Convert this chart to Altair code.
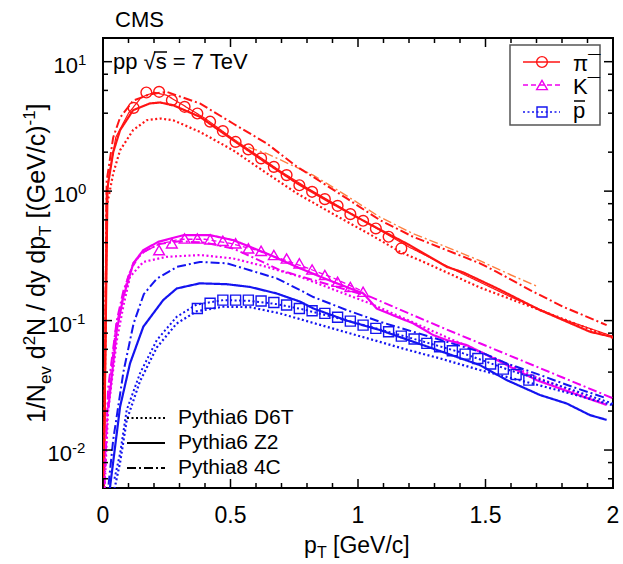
import altair as alt
import pandas as pd

# ---------------- measured spectra: CMS, pp at sqrt(s) = 7 TeV ----------------
pion_pt = [0.12, 0.17, 0.22, 0.27, 0.32, 0.37, 0.42, 0.47, 0.52, 0.57, 0.62,
           0.67, 0.72, 0.77, 0.82, 0.87, 0.92, 0.97, 1.02, 1.07, 1.12, 1.17]
pion_val = [4.40, 5.78, 5.85, 5.04, 4.48, 3.98, 3.44, 2.91, 2.40, 2.10, 1.79,
            1.54, 1.33, 1.11, 0.988, 0.867, 0.770, 0.664, 0.590, 0.515, 0.444, 0.361]

kaon_pt = [0.22, 0.27, 0.32, 0.37, 0.42, 0.47, 0.52, 0.57, 0.62, 0.67, 0.72,
           0.77, 0.82, 0.87, 0.92, 0.97, 1.02]
kaon_val = [0.350, 0.395, 0.431, 0.431, 0.424, 0.413, 0.395, 0.361, 0.346, 0.321,
            0.302, 0.277, 0.248, 0.225, 0.1995, 0.182, 0.167]

proton_pt = [0.37, 0.42, 0.47, 0.52, 0.57, 0.62, 0.67, 0.72, 0.77, 0.82, 0.87,
             0.92, 0.97, 1.02, 1.07, 1.12, 1.17, 1.22, 1.27, 1.32, 1.37, 1.42,
             1.47, 1.52, 1.57, 1.62, 1.67]
proton_val = [0.124, 0.136, 0.144, 0.144, 0.144, 0.1415, 0.138, 0.132, 0.124, 0.119,
              0.1137, 0.106, 0.099, 0.0923, 0.0870, 0.0819, 0.0759, 0.0720, 0.0667,
              0.0628, 0.0585, 0.0551, 0.0510, 0.0462, 0.0422, 0.0383, 0.0347]

# ---------------- fitted shapes drawn through the data ----------------
pion_fit_pt = [0.003, 0.02, 0.05, 0.1, 0.15, 0.2, 0.25, 0.3, 0.4, 0.5, 0.6, 0.7,
               0.8, 0.9, 1.0, 1.1, 1.2, 1.4, 1.6, 1.8, 2.0]
pion_fit_val = [0.003, 1.2, 2.6, 4.0, 5.3, 5.8, 5.5, 4.8, 3.65, 2.62, 1.92, 1.41,
                1.06, 0.815, 0.625, 0.48, 0.37, 0.235, 0.152, 0.103, 0.0755]
pion_aux_pt = [0.51, 0.58, 0.643, 0.694, 0.824, 0.956, 1.086, 1.216, 1.348,
               1.478, 1.6, 1.70]
pion_aux_val = [2.48, 2.15, 1.95, 1.75, 1.33, 0.92, 0.63, 0.47, 0.37, 0.29, 0.225, 0.185]
kaon_fit_pt = [0.008, 0.02, 0.05, 0.1, 0.15, 0.22, 0.3, 0.4, 0.5, 0.6, 0.7, 0.8,
               0.9, 1.02]
kaon_fit_val = [0.008, 0.025, 0.09, 0.23, 0.33, 0.39, 0.425, 0.425, 0.395, 0.35,
                0.30, 0.255, 0.215, 0.168]
proton_fit_pt = [0.045, 0.067, 0.093, 0.145, 0.211, 0.289, 0.367, 0.472, 0.576,
                 0.681, 0.785, 0.89, 1.0, 1.2, 1.4, 1.6, 1.8, 2.0]
proton_fit_val = [0.006, 0.0094, 0.0204, 0.0391, 0.0707, 0.107, 0.133, 0.144, 0.142,
                  0.134, 0.122, 0.108, 0.095, 0.074, 0.057, 0.041, 0.031, 0.0228]

# ---------------- generator predictions ----------------
pion_d6t_pt = [0.002, 0.0145, 0.04, 0.067, 0.118, 0.171, 0.224, 0.275, 0.38, 0.51,
               0.643, 0.761, 0.9, 1.05, 1.165, 1.282, 1.478, 1.714, 1.85, 2.0]
pion_d6t_val = [0.003, 0.756, 1.37, 2.07, 2.96, 3.53, 3.64, 3.53, 2.87, 2.07,
                1.37, 0.96, 0.67, 0.46, 0.34, 0.27, 0.18, 0.1205, 0.095, 0.0735]
pion_z2_pt = [0.002, 0.015, 0.04, 0.067, 0.118, 0.184, 0.224, 0.275, 0.38, 0.51,
              0.643, 0.761, 0.9, 1.05, 1.2, 1.348, 1.412, 1.544, 1.714, 1.804, 1.91, 2.0]
pion_z2_val = [0.003, 0.99, 2.0, 2.96, 4.22, 4.76, 4.84, 4.61, 3.75, 2.48,
               1.64, 1.15, 0.80, 0.55, 0.385, 0.260, 0.236, 0.178, 0.1205, 0.101,
               0.0819, 0.0746]
pion_4c_pt = [0.002, 0.0145, 0.04, 0.067, 0.118, 0.184, 0.25, 0.38, 0.51, 0.643,
              0.761, 0.824, 0.956, 1.086, 1.216, 1.348, 1.478, 1.544, 1.675, 1.804, 1.975]
pion_4c_val = [0.003, 1.2, 2.6, 3.7, 5.0, 5.6, 5.85, 4.76, 3.33, 2.33,
               1.54, 1.29, 0.878, 0.597, 0.444, 0.350, 0.277, 0.238, 0.172, 0.128, 0.0923]

kaon_d6t_pt = [0.004, 0.02, 0.054, 0.08, 0.106, 0.158, 0.25, 0.38, 0.511, 0.642,
               0.773, 0.9, 1.05, 1.2, 1.35, 1.5, 1.7, 1.85, 1.975]
kaon_d6t_val = [0.004, 0.02, 0.07, 0.13, 0.218, 0.284, 0.311, 0.321, 0.302, 0.260,
                0.218, 0.175, 0.135, 0.1, 0.074, 0.055, 0.0365, 0.028, 0.0225]
kaon_z2_pt = [0.021, 0.054, 0.08, 0.119, 0.158, 0.217, 0.315, 0.42, 0.511, 0.642,
              0.773, 0.9, 1.021, 1.073, 1.152, 1.217, 1.295, 1.348, 1.426, 1.55,
              1.70, 1.85, 1.975]
kaon_z2_val = [0.021, 0.0845, 0.153, 0.277, 0.350, 0.406, 0.457, 0.457, 0.418, 0.330,
               0.253, 0.20, 0.162, 0.124, 0.107, 0.0951, 0.0773, 0.0707, 0.0647, 0.049,
               0.0347, 0.0272, 0.0223]
kaon_4c_pt = [0.004, 0.02, 0.054, 0.08, 0.12, 0.16, 0.22, 0.3, 0.4, 0.511, 0.6,
              0.694, 0.9, 1.047, 1.2, 1.322, 1.478, 1.65, 1.8, 2.0]
kaon_4c_val = [0.004, 0.03, 0.1, 0.17, 0.28, 0.34, 0.39, 0.41, 0.40, 0.36, 0.30,
               0.245, 0.186, 0.153, 0.1135, 0.0896, 0.0668, 0.0484, 0.0365, 0.0251]

proton_d6t_pt = [0.045, 0.067, 0.093, 0.145, 0.211, 0.289, 0.367, 0.472, 0.576,
                 0.694, 0.8, 0.9, 1.047, 1.2, 1.322, 1.478, 1.6, 1.8, 2.0]
proton_d6t_val = [0.005, 0.008, 0.017, 0.034, 0.062, 0.095, 0.118, 0.128, 0.127,
                  0.1137, 0.099, 0.087, 0.072, 0.059, 0.051, 0.0415, 0.036, 0.0285, 0.0222]
proton_z2_pt = [0.027, 0.067, 0.106, 0.158, 0.236, 0.289, 0.38, 0.485, 0.576, 0.681,
                0.773, 0.825, 0.956, 1.086, 1.217, 1.348, 1.478, 1.583, 1.714, 1.818,
                1.91, 1.975]
proton_z2_val = [0.00506, 0.0216, 0.0467, 0.0896, 0.144, 0.177, 0.194, 0.191, 0.182,
                 0.162, 0.140, 0.124, 0.1, 0.0845, 0.0686, 0.0558, 0.0453, 0.0347,
                 0.0266, 0.0229, 0.0186, 0.0171]
proton_4c_pt = [0.015, 0.04, 0.08, 0.12, 0.16, 0.21, 0.29, 0.38, 0.485, 0.576, 0.681,
                0.773, 0.825, 0.956, 1.086, 1.217, 1.348, 1.478, 1.583, 1.714, 1.84, 1.975]
proton_4c_val = [0.004, 0.012, 0.04, 0.095, 0.16, 0.21, 0.26, 0.284, 0.277, 0.245,
                 0.212, 0.172, 0.152, 0.1205, 0.098, 0.0819, 0.0686, 0.0574, 0.0467,
                 0.0380, 0.0308, 0.0251]

# axis ticks and labels
x_major = [0, 0.5, 1, 1.5, 2]
x_labels = ["0", "0.5", "1", "1.5", "2"]
x_minor = [0.1, 0.2, 0.3, 0.4, 0.6, 0.7, 0.8, 0.9, 1.1, 1.2, 1.3, 1.4,
           1.6, 1.7, 1.8, 1.9]
y_major = [10, 1, 0.1, 0.01]
y_exponents = ["1", "0", "-1", "-2"]
y_minor = [0.006, 0.008, 0.02, 0.04, 0.06, 0.08, 0.2, 0.4, 0.6, 0.8,
           2, 4, 6, 8]

RED = "#ff1414"
MAG = "#f000f0"
BLUE = "#1414f0"
ORANGE = "#ff8040"
FONT = "Liberation Sans"

SOLID = [1, 0]
DOTTED = [2, 2.5]
DASHED = [5, 3]
DASHDOT = [9, 3, 2, 3]

XS = alt.Scale(domain=[0, 2], nice=False, zero=False)
YS = alt.Scale(type="log", domain=[0.00509, 15.24], nice=False)


def xy(xfield="pt", yfield="val"):
    return dict(x=alt.X(f"{xfield}:Q", scale=XS, axis=None),
                y=alt.Y(f"{yfield}:Q", scale=YS, axis=None))


def curve(pts, vals, color, dash, width):
    df = pd.DataFrame({"pt": pts, "val": vals})
    return alt.Chart(df).mark_line(clip=True, color=color, strokeDash=dash,
                                   strokeWidth=width).encode(**xy())


def points(pts, vals, shape, color, size):
    df = pd.DataFrame({"pt": pts, "val": vals})
    return alt.Chart(df).mark_point(clip=True, shape=shape, filled=False, size=size,
                                    color=color, strokeWidth=1.4, opacity=1).encode(**xy())


one = pd.DataFrame({"k": [0]})


def label(text, x, y, size, align="left", baseline="middle", weight="normal",
          angle=None, color="black"):
    kw = dict(text=text, fontSize=size, font=FONT, align=align, baseline=baseline,
              fontWeight=weight, color=color)
    if angle is not None:
        kw["angle"] = angle
    return alt.Chart(one).mark_text(**kw).encode(x=alt.value(x), y=alt.value(y))


def seg(x1, x2, y, color, dash, width):
    return alt.Chart(one).mark_rule(color=color, strokeDash=dash, strokeWidth=width).encode(
        x=alt.value(x1), x2=alt.value(x2), y=alt.value(y))


def symbol(x, y, shape, color, size):
    return alt.Chart(one).mark_point(shape=shape, filled=False, size=size, color=color,
                                     strokeWidth=1.4, opacity=1).encode(
        x=alt.value(x), y=alt.value(y))


layers = []

# model and fit curves
layers += [
    curve(pion_fit_pt, pion_fit_val, RED, SOLID, 1.2),
    curve(pion_aux_pt, pion_aux_val, ORANGE, DASHDOT, 1.4),
    curve(pion_d6t_pt, pion_d6t_val, RED, DOTTED, 2.2),
    curve(pion_z2_pt, pion_z2_val, RED, SOLID, 2.2),
    curve(pion_4c_pt, pion_4c_val, RED, DASHDOT, 2.0),
    curve(kaon_fit_pt, kaon_fit_val, MAG, DASHED, 1.3),
    curve(kaon_d6t_pt, kaon_d6t_val, MAG, DOTTED, 2.2),
    curve(kaon_z2_pt, kaon_z2_val, MAG, SOLID, 2.2),
    curve(kaon_4c_pt, kaon_4c_val, MAG, DASHDOT, 2.0),
    curve(proton_fit_pt, proton_fit_val, BLUE, DOTTED, 2.0),
    curve(proton_d6t_pt, proton_d6t_val, BLUE, DOTTED, 2.2),
    curve(proton_z2_pt, proton_z2_val, BLUE, SOLID, 2.2),
    curve(proton_4c_pt, proton_4c_val, BLUE, DASHDOT, 2.0),
]

# data markers
layers += [
    points(pion_pt, pion_val, "circle", RED, 115),
    points(kaon_pt, kaon_val, "triangle-up", MAG, 115),
    points(proton_pt, proton_val, "square", BLUE, 100),
]

# inward ticks on all four sides
xmaj = pd.DataFrame({"v": x_major})
xmin = pd.DataFrame({"v": x_minor})
ymaj = pd.DataFrame({"v": y_major})
ymin = pd.DataFrame({"v": y_minor})
XV = alt.X("v:Q", scale=XS, axis=None)
YV = alt.Y("v:Q", scale=YS, axis=None)
for df, ln in ((xmaj, 9), (xmin, 5)):
    layers.append(alt.Chart(df).mark_rule(color="black", strokeWidth=1.5).encode(
        x=XV, y=alt.value(450), y2=alt.value(450 - ln)))
    layers.append(alt.Chart(df).mark_rule(color="black", strokeWidth=1.5).encode(
        x=XV, y=alt.value(0), y2=alt.value(ln)))
for df, ln in ((ymaj, 9), (ymin, 5)):
    layers.append(alt.Chart(df).mark_rule(color="black", strokeWidth=1.5).encode(
        y=YV, x=alt.value(0), x2=alt.value(ln)))
    layers.append(alt.Chart(df).mark_rule(color="black", strokeWidth=1.5).encode(
        y=YV, x=alt.value(510), x2=alt.value(510 - ln)))

# x tick labels
xl = pd.DataFrame({"v": x_major, "t": x_labels})
layers.append(alt.Chart(xl).mark_text(fontSize=23, font=FONT, baseline="alphabetic",
                                      align="center", color="black").encode(
    x=XV, y=alt.value(485), text="t:N"))

# y tick labels: 10 with a raised exponent
yl = pd.DataFrame({"v": y_major, "e": y_exponents})
yl["xe"] = [-31 if e.startswith("-") else -25 for e in y_exponents]
layers.append(alt.Chart(yl).mark_text(fontSize=22, font=FONT, baseline="alphabetic",
                                      align="right", text="10", color="black").encode(
    y=YV, x=alt.X("xe:Q", scale=None), yOffset=alt.value(11)))
layers.append(alt.Chart(yl).mark_text(fontSize=15, font=FONT, baseline="alphabetic",
                                      align="left", color="black").encode(
    y=YV, x=alt.X("xe:Q", scale=None), text="e:N", yOffset=alt.value(3)))

# axis titles
layers += [
    label("p", 201, 515, 23, baseline="alphabetic"),
    label("T", 214, 520, 16, baseline="alphabetic"),
    label("[GeV/c]", 230, 515, 23, baseline="alphabetic"),
]
for txt, ystart, size, xb in [
    ("1/N", 385, 25, -58), ("ev", 346.1, 17, -52), ("d", 321.2, 25, -58),
    ("2", 307.3, 17, -68), ("N / dy dp", 297.9, 25, -58), ("T", 197.9, 17, -52),
    ("[(GeV/c)", 180.5, 25, -58), ("-1", 87.5, 17, -68), ("]", 72.4, 25, -58),
]:
    layers.append(label(txt, xb, ystart, size, baseline="alphabetic", angle=270))

# header texts
layers += [
    label("CMS", 12, -18, 22),
    label("pp \u221as = 7 TeV", 10, 24, 22),
    seg(51, 64, 14, "black", SOLID, 1.3),
]

# species legend (boxed, top right)
layers.append(alt.Chart(one).mark_rect(fill="white", stroke="#555555", strokeWidth=1.5).encode(
    x=alt.value(407), x2=alt.value(497), y=alt.value(7), y2=alt.value(87)))
layers += [
    seg(420, 457, 24, RED, SOLID, 1.3), symbol(439, 24, "circle", RED, 115),
    seg(420, 457, 47, MAG, DASHED, 1.3), symbol(439, 47, "triangle-up", MAG, 115),
    seg(420, 457, 74, BLUE, DOTTED, 1.6), symbol(439, 74, "square", BLUE, 100),
    label("\u03c0\u00af", 470, 26, 22),
    label("K\u00af", 470, 49, 22),
    label("p", 470, 73, 22),
    seg(471, 482, 63, "black", SOLID, 1.6),
]

# generator legend (bottom left)
layers += [
    seg(24, 62, 380, "black", DOTTED, 2), label("Pythia6 D6T", 75, 380, 21),
    seg(24, 62, 405, "black", SOLID, 2), label("Pythia6 Z2", 75, 405, 21),
    seg(24, 62, 430, "black", DASHDOT, 2), label("Pythia8 4C", 75, 430, 21),
]

chart = alt.layer(*layers).properties(
    width=510, height=450,
    padding={"left": 103, "top": 38, "right": 10, "bottom": 76},
    autosize=alt.AutoSizeParams(type="none"),
).configure_view(stroke="black", strokeWidth=2)

chart.save("out.html", embed_options={"renderer": "svg", "actions": False})
